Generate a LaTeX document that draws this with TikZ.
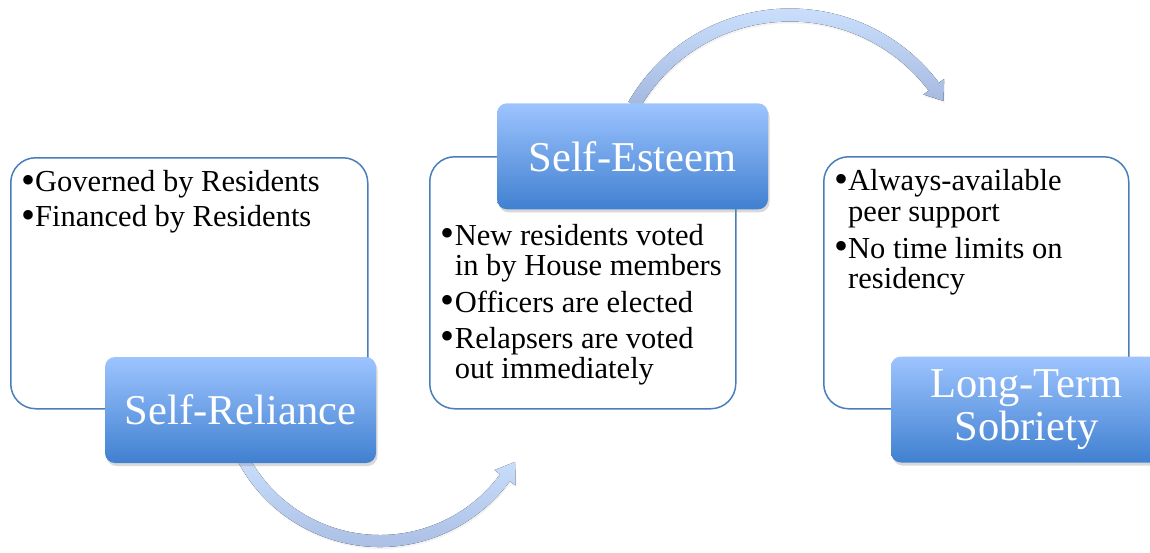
\documentclass[tikz,border=0pt]{standalone}
\usepackage{fontspec}
\setmainfont{Liberation Serif}
\usetikzlibrary{shadows}
\definecolor{boxline}{RGB}{74,126,187}
\definecolor{labtop}{RGB}{157,196,255}
\definecolor{labbot}{RGB}{64,128,208}
\definecolor{arrtop}{RGB}{202,222,252}
\definecolor{arrbot}{RGB}{164,184,224}
\newcommand\bulmark{\raisebox{-1.8pt}{\fontsize{40}{30}\selectfont •}}
\tikzset{
  textbox/.style={draw=boxline, line width=1.5pt, fill=white, rounded corners=25pt,
    rectangle, inner sep=0pt, anchor=north west},
  stagelabel/.style={rectangle, rounded corners=10pt, top color=labtop, bottom color=labbot,
    draw=none, minimum width=271pt, minimum height=106pt, inner sep=0pt, text=white,
    font=\fontsize{42.5}{43}\selectfont, align=center,
    drop shadow={shadow xshift=1.5pt, shadow yshift=-3pt, opacity=0.3}},
  bodytext/.style={anchor=base west, inner sep=0pt, font=\fontsize{30.5}{30}\selectfont},
  bandarrow/.style={top color=arrtop, bottom color=arrbot, draw=none,
    drop shadow={shadow xshift=1pt, shadow yshift=-2pt, opacity=0.1}}
}
\begin{document}
\begin{tikzpicture}[x=1pt,y=-1pt]
\useasboundingbox (0,0) rectangle (1150,552);
% curved arrows
\coordinate (c1) at (380,386);
\coordinate (c2) at (790,195);
\begin{scope}[shift={(c1)}]
\fill[bandarrow] (152:161) arc[start angle=152, end angle=36.3, radius=161]
  -- (36.3:168) -- (29.3:155) -- (36.3:142) -- (36.3:149)
  arc[start angle=36.3, end angle=152, radius=149] -- cycle;
\end{scope}
\begin{scope}[shift={(c2)}]
\fill[bandarrow] (-150:186.5) arc[start angle=-150, end angle=-37, radius=186.5]
  -- (-37:193) -- (-31.5:180) -- (-37:167) -- (-37:173.5)
  arc[start angle=-37, end angle=-150, radius=173.5] -- cycle;
\end{scope}
% text boxes
\node[textbox, minimum width=357pt, minimum height=251pt] (box1) at (10,157) {};
\node[textbox, minimum width=306pt, minimum height=252pt] (box2) at (429,156) {};
\node[textbox, minimum width=305pt, minimum height=252pt] (box3) at (823,156) {};
% body text
\node[bodytext] (t11) at (21,191.7) {\bulmark Governed by Residents};
\node[bodytext] (t12) at (21,226.7) {\bulmark Financed by Residents};
\node[bodytext] (t21) at (440.7,245) {\bulmark New residents voted};
\node[bodytext] (t22) at (440.7,275) {\phantom{\bulmark}in by House members};
\node[bodytext] (t23) at (440.7,312) {\bulmark Officers are elected};
\node[bodytext] (t24) at (440.7,348) {\bulmark Relapsers are voted};
\node[bodytext] (t25) at (440.7,378) {\phantom{\bulmark}out immediately};
\node[bodytext] (t31) at (834,190.7) {\bulmark Always-available};
\node[bodytext] (t32) at (834,221.7) {\phantom{\bulmark}peer support};
\node[bodytext] (t33) at (834,258) {\bulmark No time limits on};
\node[bodytext] (t34) at (834,288) {\phantom{\bulmark}residency};
% stage labels
\node[stagelabel] (lab1) at (240.5,410) {Self-Reliance};
\node[stagelabel] (lab2) at (632.5,156.3) {Self-Esteem};
\node[stagelabel] (lab3) at (1026.5,409.5) {Long-Term\\Sobriety};
\end{tikzpicture}
\end{document}
